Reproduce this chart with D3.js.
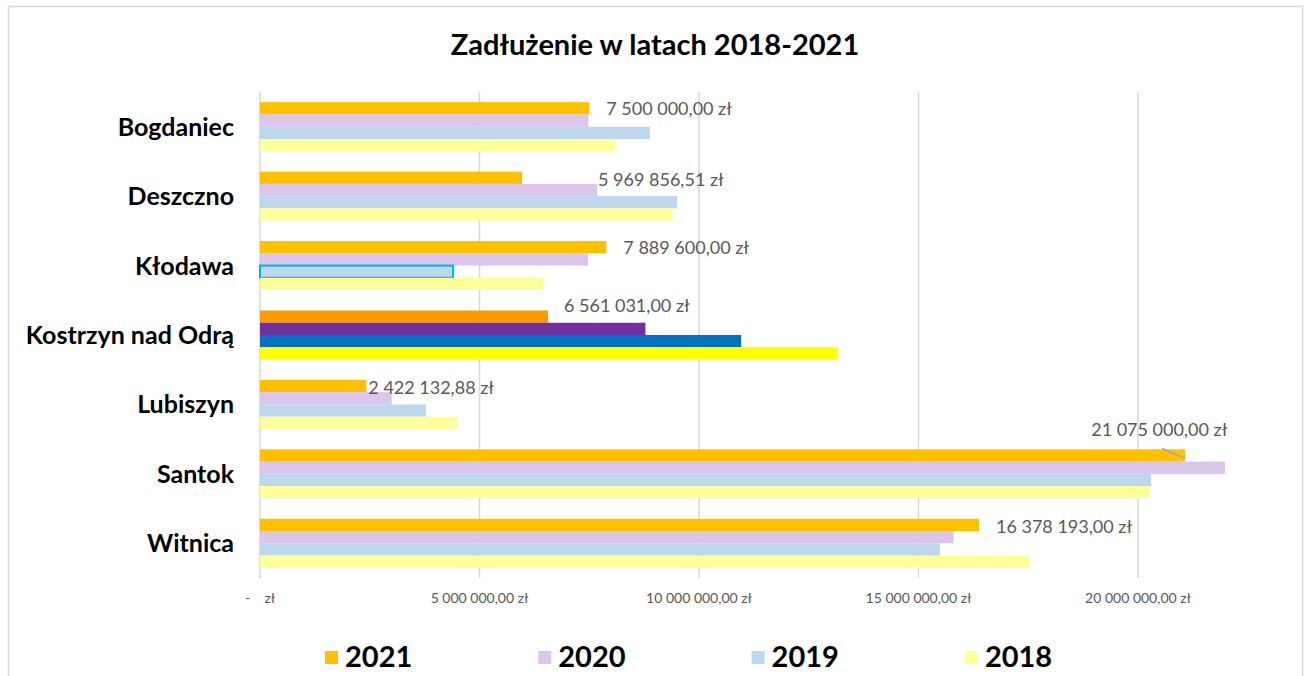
<!DOCTYPE html>
<html>
<head>
<meta charset="utf-8">
<script src="https://cdn.jsdelivr.net/npm/d3@7"></script>
<style>
  body { margin: 0; background: #fff; }
  svg { display: block; font-family: "Liberation Sans Narrow", "Lato", sans-serif; }
</style>
</head>
<body>
<div id="chart"></div>
<script>

// gminy, top to bottom
var categories = ["Bogdaniec", "Deszczno", "Kłodawa", "Kostrzyn nad Odrą", "Lubiszyn", "Santok", "Witnica"];
var years = ["2021", "2020", "2019", "2018"];

var values2021 = [7500000, 5969856.51, 7889600, 6561031, 2422132.88, 21075000, 16378193];
var values2020 = [7480000, 7680000, 7470000, 8780000, 3000000, 21980000, 15800000];
var values2019 = [8880000, 9500000, 4400000, 10960000, 3780000, 20300000, 15490000];
var values2018 = [8100000, 9400000, 6460000, 13170000, 4510000, 20250000, 17540000];

var xTicks = [0, 5000000, 10000000, 15000000, 20000000];

var yearColors = ["#FFC000", "#DCC5EB", "#BDD7EE", "#FFFF99"];
// Kostrzyn is painted with stronger colours in the original
var kostrzynColors = ["#FF9900", "#7030A0", "#0070C0", "#FFFF00"];

// manual nudges of the 2021 data labels (px), like in the source workbook
var labelShiftX = [17, 76, 17, 16, 2, -94, 17];
var labelShiftY = [1, 2, 1, -11, 2, -25, 2];

var series = [values2021, values2020, values2019, values2018];

var width = 1308, height = 676;
var margin = {left: 260, right: 170, top: 92, bottom: 98};

var svg = d3.select("#chart").append("svg")
    .attr("width", width)
    .attr("height", height);

// outer frame
svg.append("rect")
    .attr("x", 8.5).attr("y", 6.5)
    .attr("width", 1294).attr("height", 700)
    .style("fill", "none")
    .style("stroke", "#D9D9D9")
    .style("stroke-width", 1.5);

svg.append("text")
    .attr("x", 655).attr("y", 55)
    .attr("text-anchor", "middle")
    .style("font-size", "29px")
    .style("font-weight", "bold")
    .text("Zadłużenie w latach 2018-2021");

var x = d3.scaleLinear()
    .domain([0, 5000000])
    .range([margin.left, 479.5]);

var y = d3.scaleBand()
    .domain(categories)
    .range([margin.top, height - margin.bottom])
    .paddingInner(0.294)
    .paddingOuter(0.147);

var ySub = d3.scaleBand()
    .domain(years)
    .range([0, y.bandwidth()]);

var pl = d3.formatLocale({decimal: ",", thousands: " ", grouping: [3], currency: ["", " zł"]});
var fmt = pl.format("$,.2f");
function tickFmt(v) { return v === 0 ? "-    zł" : fmt(v); }

// gridlines
svg.append("g")
  .selectAll("line")
  .data(xTicks)
  .join("line")
    .attr("x1", function(d) { return x(d); })
    .attr("x2", function(d) { return x(d); })
    .attr("y1", margin.top)
    .attr("y2", height - margin.bottom)
    .style("stroke", "#D9D9D9")
    .style("stroke-width", 1.5);

// x tick labels
svg.append("g")
  .selectAll("text")
  .data(xTicks)
  .join("text")
    .attr("x", function(d) { return x(d); })
    .attr("y", 603)
    .attr("text-anchor", "middle")
    .style("font-size", "14px")
    .style("white-space", "pre")
    .style("fill", "#595959")
    .text(tickFmt);

// category labels
svg.append("g")
  .selectAll("text")
  .data(categories)
  .join("text")
    .attr("x", 234)
    .attr("y", function(d) { return y(d) + y.bandwidth() / 2 + 9; })
    .attr("text-anchor", "end")
    .style("font-size", "25px")
    .style("font-weight", "bold")
    .text(function(d) { return d; });

// bars
series.forEach(function(vals, si) {
  svg.append("g")
    .selectAll("rect")
    .data(vals)
    .join("rect")
      .attr("x", x(0))
      .attr("y", function(d, i) { return y(categories[i]) + ySub(years[si]); })
      .attr("width", function(d) { return x(d) - x(0); })
      .attr("height", ySub.bandwidth())
      .style("fill", function(d, i) {
        return categories[i] === "Kostrzyn nad Odrą" ? kostrzynColors[si] : yearColors[si];
      })
      .style("stroke", function(d, i) {
        if (categories[i] === "Kłodawa" && years[si] === "2019") return "#00B0F0";
        return "none";
      })
      .style("stroke-width", 2);
});

// data labels for 2021
var labels = svg.append("g");
values2021.forEach(function(v, i) {
  var bx = x(v);
  var by = y(categories[i]) + ySub("2021") + ySub.bandwidth() / 2;
  var lx = bx + labelShiftX[i];
  var ly = by + labelShiftY[i];
  labels.append("text")
    .attr("x", lx)
    .attr("y", ly + 6)
    .style("font-size", "18px")
    .style("fill", "#595959")
    .text(fmt(v));
  if (labelShiftY[i] < -20) {
    // leader line back to the bar end
    labels.append("line")
      .attr("x1", lx + 71).attr("y1", ly + 18)
      .attr("x2", bx).attr("y2", by + 3)
      .style("stroke", "#A6A6A6")
      .style("stroke-width", 1.5);
  }
});

// legend
var legend = svg.append("g")
  .selectAll("g")
  .data(years)
  .join("g")
    .attr("transform", function(d, i) { return "translate(" + (325 + i * 213.3) + ",651)"; });

legend.append("rect")
    .attr("width", 13).attr("height", 13)
    .style("fill", function(d, i) { return yearColors[i]; });

legend.append("text")
    .attr("x", 20).attr("y", 16)
    .style("font-size", "29px")
    .style("font-weight", "bold")
    .text(function(d) { return d; });

</script>
</body>
</html>
